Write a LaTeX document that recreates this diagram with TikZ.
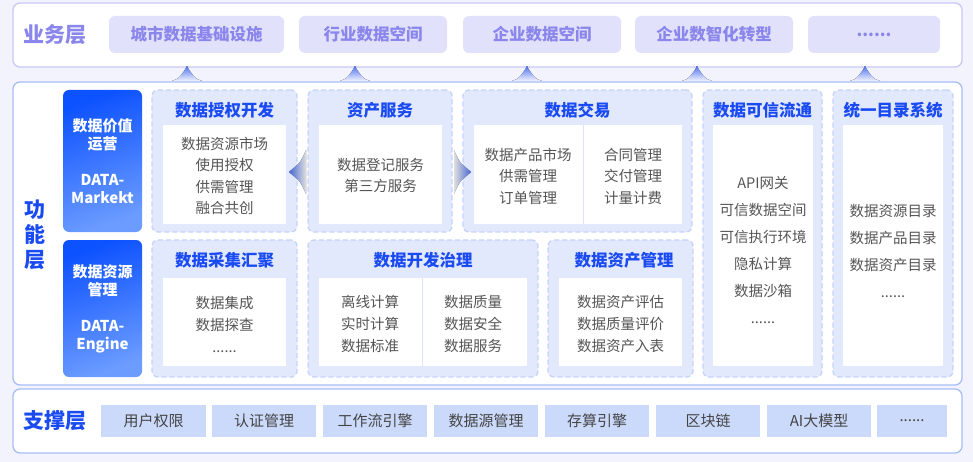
\documentclass[tikz,border=0pt]{standalone}
\usepackage{fontspec}
\setmainfont{Noto Sans CJK SC}
\definecolor{bgcol}{HTML}{F2F3FD}
\definecolor{bizfill}{HTML}{E1E1FB}
\definecolor{biztext}{HTML}{8A86EC}
\definecolor{bizborder}{HTML}{C9C9F6}
\definecolor{fnborder}{HTML}{A6BEF5}
\definecolor{panelfill}{HTML}{E3E9FC}
\definecolor{paneldash}{HTML}{C4D3F8}
\definecolor{titleblue}{HTML}{1A4AF2}
\definecolor{bodytext}{HTML}{555555}
\definecolor{suptext}{HTML}{444444}
\definecolor{supfill}{HTML}{CBDAFB}
\definecolor{bluetop}{HTML}{0D52FF}
\definecolor{bluebot}{HTML}{6C9CFF}
\definecolor{arrowblue}{HTML}{4F74F2}
\definecolor{divline}{HTML}{DCE4FA}
\tikzset{
  box/.style={rectangle, inner sep=0pt, outer sep=0pt},
  layerbox/.style={box, fill=white, line width=1.3pt, rounded corners=7pt},
  layerlabel/.style={font=\bfseries\fontsize{21}{25}\selectfont, align=center},
  bizitem/.style={box, fill=bizfill, rounded corners=6pt, text=biztext, minimum height=37pt, font=\bfseries\fontsize{16.5}{18}\selectfont},
  valuebox/.style={box, rounded corners=6pt, top color=bluetop, bottom color=bluebot, shading angle=20, text=white, align=center, minimum width=79pt, font=\bfseries\fontsize{15}{18}\selectfont},
  panel/.style={box, fill=panelfill, draw=paneldash, dash pattern=on 5pt off 3pt, line width=1.3pt, rounded corners=6pt},
  innerbox/.style={box, fill=white},
  ptitle/.style={text=titleblue, font=\bfseries\fontsize{16.5}{18}\selectfont},
  body/.style={text=bodytext, align=center, font=\fontsize{14.5}{21.5}\selectfont},
  bodywide/.style={text=bodytext, align=center, font=\fontsize{14.5}{27}\selectfont},
  supitem/.style={box, fill=supfill, text=suptext, minimum height=32pt, minimum width=104pt, font=\fontsize{15}{18}\selectfont},
  uparrow/.style={top color=arrowblue, bottom color=bgcol},
  sidearrow/.style={fill opacity=0.85},
}
\begin{document}
\begin{tikzpicture}[x=1pt,y=-1pt]
\fill[bgcol] (0,0) rectangle (973,462);
\useasboundingbox (0,0) rectangle (973,462);

% ---------- layers ----------
\node[layerbox, draw=bizborder, minimum width=949pt, minimum height=64pt] (biz) at (487.5,35) {};
\node[layerbox, draw=fnborder, minimum width=949pt, minimum height=303pt] (fn) at (487.5,233.5) {};
\node[layerbox, draw=fnborder, minimum width=949pt, minimum height=64pt] (sup) at (487.5,421) {};

\node[layerlabel, text=biztext] (bizlabel) at (55,35) {业务层};
\node[layerlabel, text=titleblue] (fnlabel) at (35,235) {功\\能\\层};
\node[layerlabel, text=titleblue] (suplabel) at (55,421) {支撑层};

% ---------- business items ----------
\node[bizitem, minimum width=175pt] (b1) at (196.5,34.5) {城市数据基础设施};
\node[bizitem, minimum width=148pt] (b2) at (373,34.5) {行业数据空间};
\node[bizitem, minimum width=158pt] (b3) at (542,34.5) {企业数据空间};
\node[bizitem, minimum width=158pt] (b4) at (714,34.5) {企业数智化转型};
\node[bizitem, minimum width=132pt] (b5) at (874,34.5) {......};

% ---------- up arrows between layers ----------
\foreach \x [count=\i] in {187,355,527,697,865}{
  \coordinate (up\i) at (\x,66);
  \fill[uparrow] (up\i) .. controls ++(3,6) and ++(-7,-1) .. ++(15,15) -- ++(-30,0) .. controls ++(7,-1) and ++(-3,6) .. (up\i);
}

% ---------- value boxes ----------
\node[valuebox, minimum height=142pt] (v1) at (102.5,161) {数据价值\\运营\\[18pt]DATA-\\Markekt};
\node[valuebox, minimum height=137pt] (v2) at (102.5,308.5) {数据资源\\管理\\[18pt]DATA-\\Engine};

% ---------- top row panels ----------
\node[panel, minimum width=145pt, minimum height=142pt] (p1) at (224.5,161) {};
\node[innerbox, minimum width=123pt, minimum height=99pt] (p1in) at (224.5,174.5) {};
\node[ptitle] (p1t) at (224.5,110) {数据授权开发};
\node[body] (p1b) at (224.5,176) {数据资源市场\\使用授权\\供需管理\\融合共创};

\node[panel, minimum width=144pt, minimum height=142pt] (p2) at (380,161) {};
\node[innerbox, minimum width=123pt, minimum height=99pt] (p2in) at (380.5,174.5) {};
\node[ptitle] (p2t) at (380,110) {资产服务};
\node[body] (p2b) at (380.5,175.5) {数据登记服务\\第三方服务};

\node[panel, minimum width=229pt, minimum height=142pt] (p3) at (577.5,161) {};
\node[innerbox, minimum width=208pt, minimum height=99pt] (p3in) at (578,174.5) {};
\draw[divline, line width=1pt] (p3in.north) ++(5,0) coordinate (p3d1) -- (p3d1 |- p3in.south);
\node[ptitle] (p3t) at (577.5,110) {数据交易};
\node[body] (p3b1) at (528,176) {数据产品市场\\供需管理\\订单管理};
\node[body] (p3b2) at (633,176) {合同管理\\交付管理\\计量计费};

\node[panel, minimum width=119pt, minimum height=287pt] (p4) at (762.5,233.5) {};
\node[innerbox, minimum width=100pt, minimum height=241pt] (p4in) at (763,245.5) {};
\node[ptitle] (p4t) at (762.5,110) {数据可信流通};
\node[bodywide] (p4b) at (763,250) {API网关\\可信数据空间\\可信执行环境\\隐私计算\\数据沙箱\\......};

\node[panel, minimum width=120pt, minimum height=287pt] (p5) at (893,233.5) {};
\node[innerbox, minimum width=100pt, minimum height=241pt] (p5in) at (893,245.5) {};
\node[ptitle] (p5t) at (893,110) {统一目录系统};
\node[bodywide] (p5b) at (893,251) {数据资源目录\\数据产品目录\\数据资产目录\\......};

% ---------- bottom row panels ----------
\node[panel, minimum width=145pt, minimum height=137pt] (p6) at (224.5,308.5) {};
\node[innerbox, minimum width=123pt, minimum height=88pt] (p6in) at (224.5,322) {};
\node[ptitle] (p6t) at (224.5,260) {数据采集汇聚};
\node[body, font=\fontsize{14.5}{22}\selectfont] (p6b) at (224.5,324) {数据集成\\数据探查\\......};

\node[panel, minimum width=230pt, minimum height=137pt] (p7) at (423,308.5) {};
\node[innerbox, minimum width=208pt, minimum height=88pt] (p7in) at (423,322) {};
\draw[divline, line width=1pt] (p7in.north) ++(-1,0) coordinate (p7d1) -- (p7d1 |- p7in.south);
\node[ptitle] (p7t) at (423,260) {数据开发治理};
\node[body, font=\fontsize{14.5}{22}\selectfont] (p7b1) at (370,324) {离线计算\\实时计算\\数据标准};
\node[body, font=\fontsize{14.5}{22}\selectfont] (p7b2) at (473,324) {数据质量\\数据安全\\数据服务};

\node[panel, minimum width=145pt, minimum height=137pt] (p8) at (620.5,308.5) {};
\node[innerbox, minimum width=123pt, minimum height=88pt] (p8in) at (620.5,322) {};
\node[ptitle] (p8t) at (624,260) {数据资产管理};
\node[body, font=\fontsize{14.5}{22}\selectfont] (p8b) at (620.5,324) {数据资产评估\\数据质量评价\\数据资产入表};

% ---------- side arrows ----------
\coordinate (la) at (289,172);
\fill[sidearrow, left color=arrowblue, right color=white] (la) -- ++(8,-7) .. controls ++(3,-2) and ++(-3,7) .. ++(9,-15) -- ++(0,44) .. controls ++(-3,-7) and ++(3,2) .. ++(-9,-15) -- cycle;
\coordinate (ra) at (471,172);
\fill[sidearrow, right color=arrowblue, left color=white] (ra) -- ++(-8,-7) .. controls ++(-3,-2) and ++(3,7) .. ++(-9,-15) -- ++(0,44) .. controls ++(3,-7) and ++(-3,2) .. ++(9,-15) -- cycle;

% ---------- support items ----------
\node[supitem, minimum width=105pt] (s1) at (153.5,421) {用户权限};
\node[supitem] (s2) at (264,421) {认证管理};
\node[supitem] (s3) at (375,421) {工作流引擎};
\node[supitem] (s4) at (486,421) {数据源管理};
\node[supitem] (s5) at (597,421) {存算引擎};
\node[supitem] (s6) at (708,421) {区块链};
\node[supitem] (s7) at (819,421) {AI大模型};
\node[supitem, minimum width=70pt] (s8) at (912,421) {......};
\end{tikzpicture}
\end{document}
